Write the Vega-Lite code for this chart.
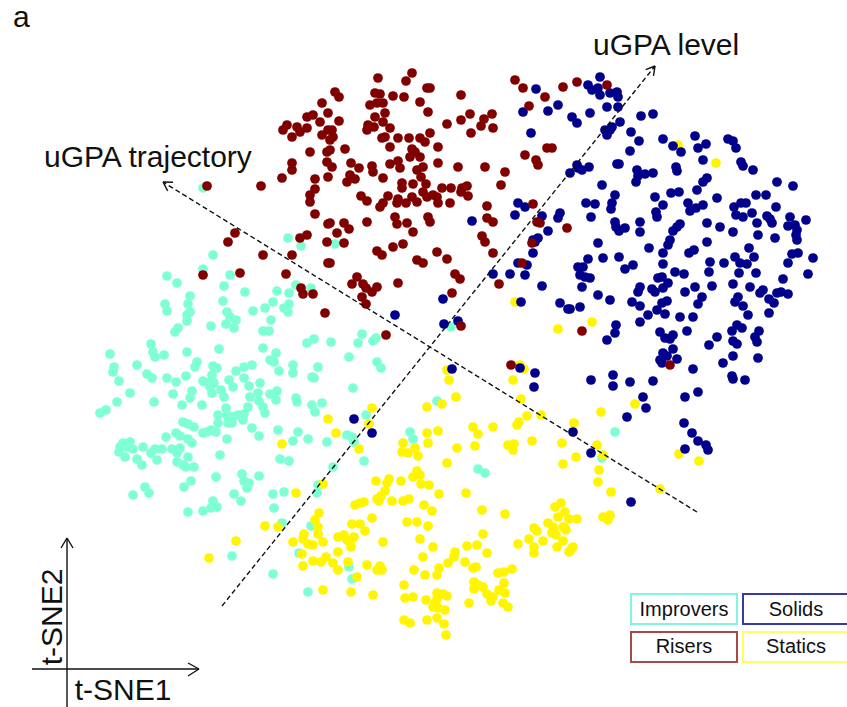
{
"$schema":"https://vega.github.io/schema/vega-lite/v6.json",
"width":847,"height":707,
"autosize":{"type":"none"},
"padding":0,
"background":"white",
"config":{"view":{"stroke":null},"font":"Liberation Sans"},
"datasets":{
"points":[
{"x":203,"y":188,"group":"Improvers"},{"x":288,"y":238,"group":"Improvers"},{"x":301,"y":246,"group":"Improvers"},{"x":335,"y":244,"group":"Improvers"},{"x":213,"y":255,"group":"Improvers"},{"x":203,"y":269,"group":"Improvers"},{"x":167,"y":276,"group":"Improvers"},{"x":177,"y":283,"group":"Improvers"},{"x":230,"y":275,"group":"Improvers"},{"x":224,"y":286,"group":"Improvers"},{"x":245,"y":292,"group":"Improvers"},{"x":190,"y":296,"group":"Improvers"},{"x":165,"y":304,"group":"Improvers"},{"x":167,"y":311,"group":"Improvers"},{"x":188,"y":304,"group":"Improvers"},{"x":187,"y":315,"group":"Improvers"},{"x":190,"y":312,"group":"Improvers"},{"x":187,"y":321,"group":"Improvers"},{"x":223,"y":301,"group":"Improvers"},{"x":227,"y":312,"group":"Improvers"},{"x":230,"y":317,"group":"Improvers"},{"x":236,"y":320,"group":"Improvers"},{"x":226,"y":324,"group":"Improvers"},{"x":234,"y":328,"group":"Improvers"},{"x":211,"y":326,"group":"Improvers"},{"x":253,"y":311,"group":"Improvers"},{"x":265,"y":308,"group":"Improvers"},{"x":273,"y":302,"group":"Improvers"},{"x":277,"y":291,"group":"Improvers"},{"x":289,"y":293,"group":"Improvers"},{"x":296,"y":285,"group":"Improvers"},{"x":311,"y":288,"group":"Improvers"},{"x":289,"y":304,"group":"Improvers"},{"x":284,"y":308,"group":"Improvers"},{"x":288,"y":312,"group":"Improvers"},{"x":271,"y":320,"group":"Improvers"},{"x":263,"y":331,"group":"Improvers"},{"x":269,"y":331,"group":"Improvers"},{"x":178,"y":328,"group":"Improvers"},{"x":175,"y":332,"group":"Improvers"},{"x":307,"y":343,"group":"Improvers"},{"x":314,"y":339,"group":"Improvers"},{"x":331,"y":342,"group":"Improvers"},{"x":151,"y":344,"group":"Improvers"},{"x":153,"y":352,"group":"Improvers"},{"x":155,"y":357,"group":"Improvers"},{"x":164,"y":355,"group":"Improvers"},{"x":187,"y":352,"group":"Improvers"},{"x":219,"y":349,"group":"Improvers"},{"x":263,"y":348,"group":"Improvers"},{"x":276,"y":353,"group":"Improvers"},{"x":270,"y":360,"group":"Improvers"},{"x":274,"y":362,"group":"Improvers"},{"x":110,"y":354,"group":"Improvers"},{"x":114,"y":367,"group":"Improvers"},{"x":113,"y":372,"group":"Improvers"},{"x":137,"y":365,"group":"Improvers"},{"x":119,"y":381,"group":"Improvers"},{"x":147,"y":374,"group":"Improvers"},{"x":152,"y":378,"group":"Improvers"},{"x":167,"y":378,"group":"Improvers"},{"x":176,"y":382,"group":"Improvers"},{"x":186,"y":376,"group":"Improvers"},{"x":197,"y":362,"group":"Improvers"},{"x":195,"y":367,"group":"Improvers"},{"x":213,"y":366,"group":"Improvers"},{"x":217,"y":368,"group":"Improvers"},{"x":212,"y":375,"group":"Improvers"},{"x":203,"y":381,"group":"Improvers"},{"x":208,"y":383,"group":"Improvers"},{"x":214,"y":383,"group":"Improvers"},{"x":210,"y":387,"group":"Improvers"},{"x":229,"y":380,"group":"Improvers"},{"x":236,"y":371,"group":"Improvers"},{"x":244,"y":367,"group":"Improvers"},{"x":252,"y":365,"group":"Improvers"},{"x":244,"y":378,"group":"Improvers"},{"x":233,"y":387,"group":"Improvers"},{"x":249,"y":386,"group":"Improvers"},{"x":260,"y":383,"group":"Improvers"},{"x":279,"y":371,"group":"Improvers"},{"x":293,"y":365,"group":"Improvers"},{"x":293,"y":373,"group":"Improvers"},{"x":318,"y":367,"group":"Improvers"},{"x":312,"y":377,"group":"Improvers"},{"x":314,"y":378,"group":"Improvers"},{"x":130,"y":393,"group":"Improvers"},{"x":117,"y":402,"group":"Improvers"},{"x":154,"y":402,"group":"Improvers"},{"x":173,"y":394,"group":"Improvers"},{"x":192,"y":391,"group":"Improvers"},{"x":190,"y":398,"group":"Improvers"},{"x":212,"y":393,"group":"Improvers"},{"x":221,"y":390,"group":"Improvers"},{"x":224,"y":397,"group":"Improvers"},{"x":250,"y":397,"group":"Improvers"},{"x":258,"y":393,"group":"Improvers"},{"x":270,"y":394,"group":"Improvers"},{"x":277,"y":391,"group":"Improvers"},{"x":276,"y":400,"group":"Improvers"},{"x":296,"y":398,"group":"Improvers"},{"x":297,"y":402,"group":"Improvers"},{"x":312,"y":405,"group":"Improvers"},{"x":322,"y":403,"group":"Improvers"},{"x":315,"y":412,"group":"Improvers"},{"x":182,"y":405,"group":"Improvers"},{"x":202,"y":405,"group":"Improvers"},{"x":226,"y":408,"group":"Improvers"},{"x":218,"y":415,"group":"Improvers"},{"x":227,"y":415,"group":"Improvers"},{"x":232,"y":417,"group":"Improvers"},{"x":238,"y":415,"group":"Improvers"},{"x":244,"y":414,"group":"Improvers"},{"x":243,"y":420,"group":"Improvers"},{"x":232,"y":423,"group":"Improvers"},{"x":228,"y":423,"group":"Improvers"},{"x":218,"y":423,"group":"Improvers"},{"x":216,"y":432,"group":"Improvers"},{"x":248,"y":407,"group":"Improvers"},{"x":263,"y":407,"group":"Improvers"},{"x":265,"y":413,"group":"Improvers"},{"x":259,"y":401,"group":"Improvers"},{"x":100,"y":413,"group":"Improvers"},{"x":106,"y":410,"group":"Improvers"},{"x":183,"y":422,"group":"Improvers"},{"x":188,"y":424,"group":"Improvers"},{"x":194,"y":427,"group":"Improvers"},{"x":203,"y":433,"group":"Improvers"},{"x":207,"y":432,"group":"Improvers"},{"x":211,"y":430,"group":"Improvers"},{"x":176,"y":433,"group":"Improvers"},{"x":180,"y":436,"group":"Improvers"},{"x":166,"y":437,"group":"Improvers"},{"x":188,"y":439,"group":"Improvers"},{"x":192,"y":443,"group":"Improvers"},{"x":227,"y":439,"group":"Improvers"},{"x":252,"y":428,"group":"Improvers"},{"x":259,"y":436,"group":"Improvers"},{"x":278,"y":430,"group":"Improvers"},{"x":293,"y":441,"group":"Improvers"},{"x":298,"y":432,"group":"Improvers"},{"x":308,"y":439,"group":"Improvers"},{"x":327,"y":442,"group":"Improvers"},{"x":123,"y":443,"group":"Improvers"},{"x":130,"y":442,"group":"Improvers"},{"x":127,"y":447,"group":"Improvers"},{"x":120,"y":447,"group":"Improvers"},{"x":143,"y":447,"group":"Improvers"},{"x":155,"y":449,"group":"Improvers"},{"x":162,"y":449,"group":"Improvers"},{"x":172,"y":449,"group":"Improvers"},{"x":180,"y":448,"group":"Improvers"},{"x":362,"y":334,"group":"Improvers"},{"x":358,"y":343,"group":"Improvers"},{"x":373,"y":341,"group":"Improvers"},{"x":376,"y":338,"group":"Improvers"},{"x":349,"y":357,"group":"Improvers"},{"x":377,"y":362,"group":"Improvers"},{"x":381,"y":368,"group":"Improvers"},{"x":353,"y":388,"group":"Improvers"},{"x":451,"y":327,"group":"Improvers"},{"x":437,"y":401,"group":"Improvers"},{"x":366,"y":415,"group":"Improvers"},{"x":347,"y":435,"group":"Improvers"},{"x":352,"y":437,"group":"Improvers"},{"x":354,"y":442,"group":"Improvers"},{"x":410,"y":432,"group":"Improvers"},{"x":413,"y":439,"group":"Improvers"},{"x":119,"y":452,"group":"Improvers"},{"x":125,"y":457,"group":"Improvers"},{"x":133,"y":449,"group":"Improvers"},{"x":151,"y":453,"group":"Improvers"},{"x":177,"y":453,"group":"Improvers"},{"x":157,"y":460,"group":"Improvers"},{"x":137,"y":459,"group":"Improvers"},{"x":142,"y":465,"group":"Improvers"},{"x":177,"y":462,"group":"Improvers"},{"x":183,"y":465,"group":"Improvers"},{"x":188,"y":457,"group":"Improvers"},{"x":194,"y":467,"group":"Improvers"},{"x":186,"y":467,"group":"Improvers"},{"x":220,"y":455,"group":"Improvers"},{"x":216,"y":477,"group":"Improvers"},{"x":242,"y":474,"group":"Improvers"},{"x":244,"y":481,"group":"Improvers"},{"x":249,"y":483,"group":"Improvers"},{"x":247,"y":488,"group":"Improvers"},{"x":259,"y":476,"group":"Improvers"},{"x":234,"y":494,"group":"Improvers"},{"x":241,"y":501,"group":"Improvers"},{"x":273,"y":494,"group":"Improvers"},{"x":284,"y":492,"group":"Improvers"},{"x":280,"y":459,"group":"Improvers"},{"x":289,"y":461,"group":"Improvers"},{"x":333,"y":467,"group":"Improvers"},{"x":318,"y":485,"group":"Improvers"},{"x":317,"y":493,"group":"Improvers"},{"x":145,"y":487,"group":"Improvers"},{"x":149,"y":493,"group":"Improvers"},{"x":133,"y":495,"group":"Improvers"},{"x":184,"y":487,"group":"Improvers"},{"x":191,"y":481,"group":"Improvers"},{"x":213,"y":501,"group":"Improvers"},{"x":217,"y":507,"group":"Improvers"},{"x":211,"y":508,"group":"Improvers"},{"x":203,"y":511,"group":"Improvers"},{"x":188,"y":512,"group":"Improvers"},{"x":274,"y":508,"group":"Improvers"},{"x":282,"y":523,"group":"Improvers"},{"x":311,"y":526,"group":"Improvers"},{"x":232,"y":556,"group":"Improvers"},{"x":273,"y":574,"group":"Improvers"},{"x":308,"y":592,"group":"Improvers"},{"x":299,"y":553,"group":"Improvers"},{"x":364,"y":461,"group":"Improvers"},{"x":478,"y":469,"group":"Improvers"},{"x":485,"y":473,"group":"Improvers"},{"x":349,"y":567,"group":"Improvers"},{"x":352,"y":579,"group":"Improvers"},{"x":615,"y":432,"group":"Improvers"},{"x":602,"y":458,"group":"Improvers"},
{"x":678,"y":145,"group":"Statics"},{"x":716,"y":163,"group":"Statics"},{"x":592,"y":322,"group":"Statics"},{"x":635,"y":404,"group":"Statics"},{"x":601,"y":412,"group":"Statics"},{"x":574,"y":423,"group":"Statics"},{"x":597,"y":445,"group":"Statics"},{"x":603,"y":455,"group":"Statics"},{"x":576,"y":457,"group":"Statics"},{"x":679,"y":454,"group":"Statics"},{"x":699,"y":461,"group":"Statics"},{"x":599,"y":470,"group":"Statics"},{"x":328,"y":419,"group":"Statics"},{"x":336,"y":433,"group":"Statics"},{"x":282,"y":444,"group":"Statics"},{"x":515,"y":302,"group":"Statics"},{"x":558,"y":329,"group":"Statics"},{"x":447,"y":370,"group":"Statics"},{"x":449,"y":380,"group":"Statics"},{"x":520,"y":365,"group":"Statics"},{"x":524,"y":369,"group":"Statics"},{"x":513,"y":380,"group":"Statics"},{"x":456,"y":397,"group":"Statics"},{"x":427,"y":407,"group":"Statics"},{"x":442,"y":404,"group":"Statics"},{"x":521,"y":399,"group":"Statics"},{"x":527,"y":416,"group":"Statics"},{"x":541,"y":415,"group":"Statics"},{"x":372,"y":408,"group":"Statics"},{"x":369,"y":424,"group":"Statics"},{"x":359,"y":449,"group":"Statics"},{"x":403,"y":443,"group":"Statics"},{"x":415,"y":448,"group":"Statics"},{"x":427,"y":433,"group":"Statics"},{"x":428,"y":443,"group":"Statics"},{"x":438,"y":431,"group":"Statics"},{"x":457,"y":448,"group":"Statics"},{"x":473,"y":427,"group":"Statics"},{"x":478,"y":434,"group":"Statics"},{"x":493,"y":427,"group":"Statics"},{"x":475,"y":446,"group":"Statics"},{"x":508,"y":445,"group":"Statics"},{"x":514,"y":444,"group":"Statics"},{"x":517,"y":425,"group":"Statics"},{"x":519,"y":422,"group":"Statics"},{"x":532,"y":441,"group":"Statics"},{"x":562,"y":443,"group":"Statics"},{"x":296,"y":493,"group":"Statics"},{"x":323,"y":484,"group":"Statics"},{"x":319,"y":513,"group":"Statics"},{"x":315,"y":520,"group":"Statics"},{"x":318,"y":527,"group":"Statics"},{"x":318,"y":534,"group":"Statics"},{"x":265,"y":526,"group":"Statics"},{"x":278,"y":527,"group":"Statics"},{"x":236,"y":541,"group":"Statics"},{"x":209,"y":558,"group":"Statics"},{"x":293,"y":542,"group":"Statics"},{"x":304,"y":534,"group":"Statics"},{"x":303,"y":539,"group":"Statics"},{"x":308,"y":544,"group":"Statics"},{"x":313,"y":545,"group":"Statics"},{"x":323,"y":542,"group":"Statics"},{"x":338,"y":537,"group":"Statics"},{"x":338,"y":552,"group":"Statics"},{"x":302,"y":554,"group":"Statics"},{"x":303,"y":566,"group":"Statics"},{"x":313,"y":561,"group":"Statics"},{"x":321,"y":562,"group":"Statics"},{"x":326,"y":557,"group":"Statics"},{"x":333,"y":563,"group":"Statics"},{"x":338,"y":570,"group":"Statics"},{"x":323,"y":590,"group":"Statics"},{"x":402,"y":452,"group":"Statics"},{"x":408,"y":453,"group":"Statics"},{"x":418,"y":456,"group":"Statics"},{"x":513,"y":450,"group":"Statics"},{"x":563,"y":464,"group":"Statics"},{"x":447,"y":463,"group":"Statics"},{"x":417,"y":471,"group":"Statics"},{"x":420,"y":475,"group":"Statics"},{"x":413,"y":477,"group":"Statics"},{"x":401,"y":481,"group":"Statics"},{"x":421,"y":484,"group":"Statics"},{"x":429,"y":485,"group":"Statics"},{"x":376,"y":481,"group":"Statics"},{"x":389,"y":479,"group":"Statics"},{"x":387,"y":483,"group":"Statics"},{"x":385,"y":491,"group":"Statics"},{"x":381,"y":496,"group":"Statics"},{"x":379,"y":501,"group":"Statics"},{"x":377,"y":499,"group":"Statics"},{"x":392,"y":501,"group":"Statics"},{"x":403,"y":501,"group":"Statics"},{"x":409,"y":499,"group":"Statics"},{"x":355,"y":505,"group":"Statics"},{"x":360,"y":503,"group":"Statics"},{"x":364,"y":502,"group":"Statics"},{"x":439,"y":494,"group":"Statics"},{"x":466,"y":493,"group":"Statics"},{"x":424,"y":505,"group":"Statics"},{"x":432,"y":511,"group":"Statics"},{"x":482,"y":510,"group":"Statics"},{"x":505,"y":514,"group":"Statics"},{"x":372,"y":518,"group":"Statics"},{"x":352,"y":524,"group":"Statics"},{"x":360,"y":524,"group":"Statics"},{"x":365,"y":531,"group":"Statics"},{"x":407,"y":522,"group":"Statics"},{"x":417,"y":522,"group":"Statics"},{"x":428,"y":526,"group":"Statics"},{"x":344,"y":535,"group":"Statics"},{"x":347,"y":540,"group":"Statics"},{"x":354,"y":537,"group":"Statics"},{"x":351,"y":547,"group":"Statics"},{"x":350,"y":542,"group":"Statics"},{"x":383,"y":542,"group":"Statics"},{"x":420,"y":539,"group":"Statics"},{"x":433,"y":547,"group":"Statics"},{"x":483,"y":534,"group":"Statics"},{"x":467,"y":546,"group":"Statics"},{"x":477,"y":545,"group":"Statics"},{"x":487,"y":553,"group":"Statics"},{"x":348,"y":562,"group":"Statics"},{"x":367,"y":565,"group":"Statics"},{"x":377,"y":570,"group":"Statics"},{"x":382,"y":570,"group":"Statics"},{"x":380,"y":566,"group":"Statics"},{"x":357,"y":577,"group":"Statics"},{"x":351,"y":592,"group":"Statics"},{"x":373,"y":595,"group":"Statics"},{"x":404,"y":585,"group":"Statics"},{"x":414,"y":570,"group":"Statics"},{"x":423,"y":557,"group":"Statics"},{"x":425,"y":575,"group":"Statics"},{"x":437,"y":575,"group":"Statics"},{"x":439,"y":568,"group":"Statics"},{"x":448,"y":563,"group":"Statics"},{"x":454,"y":557,"group":"Statics"},{"x":455,"y":552,"group":"Statics"},{"x":465,"y":562,"group":"Statics"},{"x":473,"y":568,"group":"Statics"},{"x":476,"y":567,"group":"Statics"},{"x":474,"y":582,"group":"Statics"},{"x":478,"y":585,"group":"Statics"},{"x":483,"y":587,"group":"Statics"},{"x":474,"y":589,"group":"Statics"},{"x":498,"y":573,"group":"Statics"},{"x":504,"y":572,"group":"Statics"},{"x":512,"y":569,"group":"Statics"},{"x":504,"y":583,"group":"Statics"},{"x":499,"y":590,"group":"Statics"},{"x":505,"y":593,"group":"Statics"},{"x":487,"y":594,"group":"Statics"},{"x":493,"y":597,"group":"Statics"},{"x":491,"y":601,"group":"Statics"},{"x":503,"y":603,"group":"Statics"},{"x":508,"y":607,"group":"Statics"},{"x":469,"y":603,"group":"Statics"},{"x":405,"y":598,"group":"Statics"},{"x":413,"y":597,"group":"Statics"},{"x":426,"y":600,"group":"Statics"},{"x":437,"y":593,"group":"Statics"},{"x":443,"y":594,"group":"Statics"},{"x":447,"y":596,"group":"Statics"},{"x":437,"y":599,"group":"Statics"},{"x":435,"y":603,"group":"Statics"},{"x":433,"y":607,"group":"Statics"},{"x":438,"y":608,"group":"Statics"},{"x":445,"y":610,"group":"Statics"},{"x":404,"y":620,"group":"Statics"},{"x":410,"y":623,"group":"Statics"},{"x":427,"y":620,"group":"Statics"},{"x":437,"y":618,"group":"Statics"},{"x":444,"y":624,"group":"Statics"},{"x":446,"y":635,"group":"Statics"},{"x":518,"y":544,"group":"Statics"},{"x":529,"y":539,"group":"Statics"},{"x":534,"y":528,"group":"Statics"},{"x":537,"y":531,"group":"Statics"},{"x":534,"y":547,"group":"Statics"},{"x":534,"y":553,"group":"Statics"},{"x":543,"y":541,"group":"Statics"},{"x":548,"y":523,"group":"Statics"},{"x":553,"y":527,"group":"Statics"},{"x":554,"y":531,"group":"Statics"},{"x":556,"y":535,"group":"Statics"},{"x":552,"y":533,"group":"Statics"},{"x":555,"y":507,"group":"Statics"},{"x":561,"y":503,"group":"Statics"},{"x":565,"y":512,"group":"Statics"},{"x":558,"y":517,"group":"Statics"},{"x":569,"y":519,"group":"Statics"},{"x":577,"y":519,"group":"Statics"},{"x":563,"y":527,"group":"Statics"},{"x":566,"y":530,"group":"Statics"},{"x":563,"y":541,"group":"Statics"},{"x":557,"y":547,"group":"Statics"},{"x":570,"y":551,"group":"Statics"},{"x":573,"y":547,"group":"Statics"},{"x":598,"y":482,"group":"Statics"},{"x":611,"y":492,"group":"Statics"},{"x":660,"y":489,"group":"Statics"},{"x":565,"y":528,"group":"Statics"},{"x":572,"y":548,"group":"Statics"},{"x":569,"y":552,"group":"Statics"},{"x":603,"y":517,"group":"Statics"},{"x":610,"y":515,"group":"Statics"},{"x":608,"y":520,"group":"Statics"},
{"x":536,"y":89,"group":"Solids"},{"x":523,"y":112,"group":"Solids"},{"x":548,"y":111,"group":"Solids"},{"x":558,"y":105,"group":"Solids"},{"x":572,"y":117,"group":"Solids"},{"x":577,"y":123,"group":"Solids"},{"x":531,"y":133,"group":"Solids"},{"x":577,"y":165,"group":"Solids"},{"x":578,"y":168,"group":"Solids"},{"x":570,"y":173,"group":"Solids"},{"x":472,"y":221,"group":"Solids"},{"x":518,"y":203,"group":"Solids"},{"x":525,"y":207,"group":"Solids"},{"x":515,"y":215,"group":"Solids"},{"x":542,"y":216,"group":"Solids"},{"x":560,"y":213,"group":"Solids"},{"x":558,"y":218,"group":"Solids"},{"x":548,"y":231,"group":"Solids"},{"x":533,"y":240,"group":"Solids"},{"x":538,"y":238,"group":"Solids"},{"x":535,"y":242,"group":"Solids"},{"x":533,"y":253,"group":"Solids"},{"x":600,"y":77,"group":"Solids"},{"x":588,"y":85,"group":"Solids"},{"x":592,"y":90,"group":"Solids"},{"x":598,"y":88,"group":"Solids"},{"x":600,"y":95,"group":"Solids"},{"x":610,"y":93,"group":"Solids"},{"x":617,"y":92,"group":"Solids"},{"x":618,"y":97,"group":"Solids"},{"x":607,"y":107,"group":"Solids"},{"x":618,"y":107,"group":"Solids"},{"x":590,"y":113,"group":"Solids"},{"x":620,"y":122,"group":"Solids"},{"x":641,"y":116,"group":"Solids"},{"x":653,"y":114,"group":"Solids"},{"x":605,"y":130,"group":"Solids"},{"x":610,"y":130,"group":"Solids"},{"x":607,"y":135,"group":"Solids"},{"x":612,"y":127,"group":"Solids"},{"x":631,"y":132,"group":"Solids"},{"x":639,"y":141,"group":"Solids"},{"x":630,"y":151,"group":"Solids"},{"x":663,"y":139,"group":"Solids"},{"x":673,"y":146,"group":"Solids"},{"x":681,"y":152,"group":"Solids"},{"x":695,"y":136,"group":"Solids"},{"x":698,"y":148,"group":"Solids"},{"x":706,"y":144,"group":"Solids"},{"x":728,"y":139,"group":"Solids"},{"x":733,"y":141,"group":"Solids"},{"x":736,"y":148,"group":"Solids"},{"x":703,"y":160,"group":"Solids"},{"x":741,"y":162,"group":"Solids"},{"x":743,"y":166,"group":"Solids"},{"x":753,"y":170,"group":"Solids"},{"x":617,"y":164,"group":"Solids"},{"x":619,"y":164,"group":"Solids"},{"x":589,"y":167,"group":"Solids"},{"x":582,"y":170,"group":"Solids"},{"x":637,"y":170,"group":"Solids"},{"x":645,"y":174,"group":"Solids"},{"x":653,"y":173,"group":"Solids"},{"x":638,"y":176,"group":"Solids"},{"x":636,"y":182,"group":"Solids"},{"x":676,"y":167,"group":"Solids"},{"x":677,"y":171,"group":"Solids"},{"x":602,"y":185,"group":"Solids"},{"x":615,"y":195,"group":"Solids"},{"x":612,"y":203,"group":"Solids"},{"x":611,"y":209,"group":"Solids"},{"x":586,"y":203,"group":"Solids"},{"x":595,"y":204,"group":"Solids"},{"x":591,"y":217,"group":"Solids"},{"x":615,"y":222,"group":"Solids"},{"x":616,"y":227,"group":"Solids"},{"x":619,"y":231,"group":"Solids"},{"x":625,"y":228,"group":"Solids"},{"x":640,"y":222,"group":"Solids"},{"x":640,"y":232,"group":"Solids"},{"x":655,"y":197,"group":"Solids"},{"x":663,"y":205,"group":"Solids"},{"x":671,"y":193,"group":"Solids"},{"x":679,"y":192,"group":"Solids"},{"x":656,"y":212,"group":"Solids"},{"x":657,"y":217,"group":"Solids"},{"x":688,"y":203,"group":"Solids"},{"x":690,"y":211,"group":"Solids"},{"x":696,"y":208,"group":"Solids"},{"x":703,"y":205,"group":"Solids"},{"x":697,"y":190,"group":"Solids"},{"x":703,"y":182,"group":"Solids"},{"x":707,"y":178,"group":"Solids"},{"x":717,"y":198,"group":"Solids"},{"x":734,"y":207,"group":"Solids"},{"x":741,"y":203,"group":"Solids"},{"x":746,"y":203,"group":"Solids"},{"x":756,"y":195,"group":"Solids"},{"x":766,"y":195,"group":"Solids"},{"x":736,"y":215,"group":"Solids"},{"x":743,"y":217,"group":"Solids"},{"x":752,"y":213,"group":"Solids"},{"x":777,"y":182,"group":"Solids"},{"x":793,"y":186,"group":"Solids"},{"x":776,"y":207,"group":"Solids"},{"x":767,"y":216,"group":"Solids"},{"x":770,"y":219,"group":"Solids"},{"x":772,"y":223,"group":"Solids"},{"x":790,"y":217,"group":"Solids"},{"x":806,"y":220,"group":"Solids"},{"x":788,"y":226,"group":"Solids"},{"x":795,"y":225,"group":"Solids"},{"x":797,"y":230,"group":"Solids"},{"x":796,"y":235,"group":"Solids"},{"x":797,"y":240,"group":"Solids"},{"x":775,"y":238,"group":"Solids"},{"x":758,"y":235,"group":"Solids"},{"x":757,"y":223,"group":"Solids"},{"x":733,"y":232,"group":"Solids"},{"x":720,"y":227,"group":"Solids"},{"x":707,"y":223,"group":"Solids"},{"x":680,"y":224,"group":"Solids"},{"x":677,"y":227,"group":"Solids"},{"x":673,"y":231,"group":"Solids"},{"x":670,"y":240,"group":"Solids"},{"x":668,"y":245,"group":"Solids"},{"x":663,"y":253,"group":"Solids"},{"x":649,"y":248,"group":"Solids"},{"x":598,"y":243,"group":"Solids"},{"x":619,"y":257,"group":"Solids"},{"x":603,"y":258,"group":"Solids"},{"x":588,"y":259,"group":"Solids"},{"x":707,"y":242,"group":"Solids"},{"x":689,"y":253,"group":"Solids"},{"x":694,"y":250,"group":"Solids"},{"x":735,"y":257,"group":"Solids"},{"x":749,"y":248,"group":"Solids"},{"x":792,"y":254,"group":"Solids"},{"x":798,"y":253,"group":"Solids"},{"x":813,"y":258,"group":"Solids"},{"x":625,"y":269,"group":"Solids"},{"x":633,"y":265,"group":"Solids"},{"x":583,"y":267,"group":"Solids"},{"x":580,"y":275,"group":"Solids"},{"x":585,"y":277,"group":"Solids"},{"x":590,"y":278,"group":"Solids"},{"x":582,"y":287,"group":"Solids"},{"x":598,"y":295,"group":"Solids"},{"x":610,"y":300,"group":"Solids"},{"x":580,"y":307,"group":"Solids"},{"x":570,"y":309,"group":"Solids"},{"x":616,"y":325,"group":"Solids"},{"x":615,"y":333,"group":"Solids"},{"x":607,"y":340,"group":"Solids"},{"x":640,"y":287,"group":"Solids"},{"x":638,"y":292,"group":"Solids"},{"x":652,"y":289,"group":"Solids"},{"x":655,"y":292,"group":"Solids"},{"x":658,"y":278,"group":"Solids"},{"x":662,"y":277,"group":"Solids"},{"x":663,"y":288,"group":"Solids"},{"x":668,"y":283,"group":"Solids"},{"x":632,"y":302,"group":"Solids"},{"x":640,"y":306,"group":"Solids"},{"x":648,"y":315,"group":"Solids"},{"x":657,"y":310,"group":"Solids"},{"x":640,"y":322,"group":"Solids"},{"x":662,"y":303,"group":"Solids"},{"x":667,"y":301,"group":"Solids"},{"x":665,"y":314,"group":"Solids"},{"x":663,"y":264,"group":"Solids"},{"x":675,"y":272,"group":"Solids"},{"x":684,"y":274,"group":"Solids"},{"x":685,"y":292,"group":"Solids"},{"x":695,"y":287,"group":"Solids"},{"x":702,"y":297,"group":"Solids"},{"x":698,"y":304,"group":"Solids"},{"x":680,"y":317,"group":"Solids"},{"x":693,"y":317,"group":"Solids"},{"x":687,"y":331,"group":"Solids"},{"x":660,"y":332,"group":"Solids"},{"x":665,"y":338,"group":"Solids"},{"x":670,"y":339,"group":"Solids"},{"x":673,"y":335,"group":"Solids"},{"x":673,"y":349,"group":"Solids"},{"x":677,"y":359,"group":"Solids"},{"x":663,"y":353,"group":"Solids"},{"x":660,"y":360,"group":"Solids"},{"x":662,"y":363,"group":"Solids"},{"x":667,"y":356,"group":"Solids"},{"x":710,"y":262,"group":"Solids"},{"x":709,"y":272,"group":"Solids"},{"x":724,"y":263,"group":"Solids"},{"x":740,"y":263,"group":"Solids"},{"x":747,"y":264,"group":"Solids"},{"x":754,"y":257,"group":"Solids"},{"x":739,"y":273,"group":"Solids"},{"x":756,"y":273,"group":"Solids"},{"x":712,"y":286,"group":"Solids"},{"x":733,"y":284,"group":"Solids"},{"x":750,"y":287,"group":"Solids"},{"x":760,"y":293,"group":"Solids"},{"x":763,"y":290,"group":"Solids"},{"x":777,"y":293,"group":"Solids"},{"x":781,"y":292,"group":"Solids"},{"x":788,"y":294,"group":"Solids"},{"x":769,"y":299,"group":"Solids"},{"x":774,"y":303,"group":"Solids"},{"x":783,"y":279,"group":"Solids"},{"x":788,"y":263,"group":"Solids"},{"x":808,"y":274,"group":"Solids"},{"x":735,"y":302,"group":"Solids"},{"x":738,"y":297,"group":"Solids"},{"x":743,"y":306,"group":"Solids"},{"x":748,"y":315,"group":"Solids"},{"x":769,"y":313,"group":"Solids"},{"x":737,"y":325,"group":"Solids"},{"x":742,"y":328,"group":"Solids"},{"x":732,"y":331,"group":"Solids"},{"x":759,"y":331,"group":"Solids"},{"x":755,"y":337,"group":"Solids"},{"x":757,"y":342,"group":"Solids"},{"x":733,"y":341,"group":"Solids"},{"x":737,"y":344,"group":"Solids"},{"x":717,"y":337,"group":"Solids"},{"x":709,"y":345,"group":"Solids"},{"x":733,"y":356,"group":"Solids"},{"x":758,"y":358,"group":"Solids"},{"x":723,"y":363,"group":"Solids"},{"x":693,"y":369,"group":"Solids"},{"x":732,"y":376,"group":"Solids"},{"x":733,"y":379,"group":"Solids"},{"x":745,"y":380,"group":"Solids"},{"x":591,"y":380,"group":"Solids"},{"x":613,"y":375,"group":"Solids"},{"x":613,"y":386,"group":"Solids"},{"x":630,"y":382,"group":"Solids"},{"x":653,"y":381,"group":"Solids"},{"x":643,"y":397,"group":"Solids"},{"x":646,"y":408,"group":"Solids"},{"x":627,"y":417,"group":"Solids"},{"x":685,"y":397,"group":"Solids"},{"x":698,"y":392,"group":"Solids"},{"x":684,"y":423,"group":"Solids"},{"x":692,"y":433,"group":"Solids"},{"x":698,"y":441,"group":"Solids"},{"x":706,"y":445,"group":"Solids"},{"x":708,"y":450,"group":"Solids"},{"x":685,"y":449,"group":"Solids"},{"x":573,"y":432,"group":"Solids"},{"x":591,"y":453,"group":"Solids"},{"x":518,"y":263,"group":"Solids"},{"x":527,"y":265,"group":"Solids"},{"x":493,"y":274,"group":"Solids"},{"x":510,"y":274,"group":"Solids"},{"x":525,"y":275,"group":"Solids"},{"x":542,"y":286,"group":"Solids"},{"x":578,"y":267,"group":"Solids"},{"x":560,"y":303,"group":"Solids"},{"x":568,"y":309,"group":"Solids"},{"x":443,"y":299,"group":"Solids"},{"x":395,"y":315,"group":"Solids"},{"x":444,"y":324,"group":"Solids"},{"x":458,"y":321,"group":"Solids"},{"x":521,"y":302,"group":"Solids"},{"x":452,"y":369,"group":"Solids"},{"x":520,"y":368,"group":"Solids"},{"x":535,"y":373,"group":"Solids"},{"x":534,"y":387,"group":"Solids"},{"x":354,"y":419,"group":"Solids"},{"x":372,"y":433,"group":"Solids"},{"x":631,"y":502,"group":"Solids"},
{"x":335,"y":92,"group":"Risers"},{"x":322,"y":103,"group":"Risers"},{"x":328,"y":113,"group":"Risers"},{"x":307,"y":117,"group":"Risers"},{"x":313,"y":115,"group":"Risers"},{"x":320,"y":122,"group":"Risers"},{"x":287,"y":125,"group":"Risers"},{"x":297,"y":127,"group":"Risers"},{"x":307,"y":128,"group":"Risers"},{"x":283,"y":130,"group":"Risers"},{"x":292,"y":137,"group":"Risers"},{"x":300,"y":132,"group":"Risers"},{"x":328,"y":130,"group":"Risers"},{"x":322,"y":135,"group":"Risers"},{"x":330,"y":140,"group":"Risers"},{"x":310,"y":152,"group":"Risers"},{"x":327,"y":152,"group":"Risers"},{"x":327,"y":162,"group":"Risers"},{"x":332,"y":167,"group":"Risers"},{"x":292,"y":163,"group":"Risers"},{"x":292,"y":170,"group":"Risers"},{"x":282,"y":178,"group":"Risers"},{"x":328,"y":177,"group":"Risers"},{"x":315,"y":179,"group":"Risers"},{"x":315,"y":189,"group":"Risers"},{"x":310,"y":195,"group":"Risers"},{"x":310,"y":202,"group":"Risers"},{"x":261,"y":186,"group":"Risers"},{"x":207,"y":186,"group":"Risers"},{"x":315,"y":214,"group":"Risers"},{"x":328,"y":224,"group":"Risers"},{"x":337,"y":233,"group":"Risers"},{"x":235,"y":233,"group":"Risers"},{"x":228,"y":242,"group":"Risers"},{"x":300,"y":238,"group":"Risers"},{"x":307,"y":235,"group":"Risers"},{"x":327,"y":242,"group":"Risers"},{"x":263,"y":255,"group":"Risers"},{"x":292,"y":255,"group":"Risers"},{"x":378,"y":78,"group":"Risers"},{"x":412,"y":73,"group":"Risers"},{"x":406,"y":81,"group":"Risers"},{"x":427,"y":88,"group":"Risers"},{"x":430,"y":88,"group":"Risers"},{"x":339,"y":97,"group":"Risers"},{"x":375,"y":93,"group":"Risers"},{"x":380,"y":94,"group":"Risers"},{"x":393,"y":96,"group":"Risers"},{"x":404,"y":97,"group":"Risers"},{"x":420,"y":102,"group":"Risers"},{"x":461,"y":95,"group":"Risers"},{"x":370,"y":105,"group":"Risers"},{"x":377,"y":103,"group":"Risers"},{"x":383,"y":103,"group":"Risers"},{"x":385,"y":113,"group":"Risers"},{"x":375,"y":117,"group":"Risers"},{"x":383,"y":122,"group":"Risers"},{"x":368,"y":125,"group":"Risers"},{"x":374,"y":127,"group":"Risers"},{"x":367,"y":130,"group":"Risers"},{"x":390,"y":128,"group":"Risers"},{"x":428,"y":112,"group":"Risers"},{"x":339,"y":121,"group":"Risers"},{"x":332,"y":130,"group":"Risers"},{"x":333,"y":137,"group":"Risers"},{"x":382,"y":138,"group":"Risers"},{"x":385,"y":137,"group":"Risers"},{"x":398,"y":138,"group":"Risers"},{"x":409,"y":138,"group":"Risers"},{"x":420,"y":138,"group":"Risers"},{"x":425,"y":142,"group":"Risers"},{"x":430,"y":133,"group":"Risers"},{"x":447,"y":124,"group":"Risers"},{"x":461,"y":120,"group":"Risers"},{"x":470,"y":114,"group":"Risers"},{"x":484,"y":119,"group":"Risers"},{"x":492,"y":114,"group":"Risers"},{"x":481,"y":126,"group":"Risers"},{"x":493,"y":128,"group":"Risers"},{"x":471,"y":133,"group":"Risers"},{"x":330,"y":150,"group":"Risers"},{"x":345,"y":149,"group":"Risers"},{"x":390,"y":147,"group":"Risers"},{"x":412,"y":149,"group":"Risers"},{"x":415,"y":152,"group":"Risers"},{"x":410,"y":157,"group":"Risers"},{"x":420,"y":157,"group":"Risers"},{"x":438,"y":147,"group":"Risers"},{"x":351,"y":163,"group":"Risers"},{"x":359,"y":168,"group":"Risers"},{"x":372,"y":166,"group":"Risers"},{"x":373,"y":172,"group":"Risers"},{"x":390,"y":164,"group":"Risers"},{"x":398,"y":161,"group":"Risers"},{"x":400,"y":168,"group":"Risers"},{"x":417,"y":170,"group":"Risers"},{"x":423,"y":167,"group":"Risers"},{"x":438,"y":163,"group":"Risers"},{"x":458,"y":167,"group":"Risers"},{"x":485,"y":167,"group":"Risers"},{"x":505,"y":172,"group":"Risers"},{"x":350,"y":175,"group":"Risers"},{"x":347,"y":182,"group":"Risers"},{"x":355,"y":179,"group":"Risers"},{"x":383,"y":178,"group":"Risers"},{"x":402,"y":183,"group":"Risers"},{"x":402,"y":188,"group":"Risers"},{"x":413,"y":184,"group":"Risers"},{"x":421,"y":177,"group":"Risers"},{"x":426,"y":184,"group":"Risers"},{"x":442,"y":188,"group":"Risers"},{"x":451,"y":188,"group":"Risers"},{"x":462,"y":188,"group":"Risers"},{"x":467,"y":186,"group":"Risers"},{"x":461,"y":192,"group":"Risers"},{"x":501,"y":185,"group":"Risers"},{"x":361,"y":196,"group":"Risers"},{"x":367,"y":201,"group":"Risers"},{"x":388,"y":196,"group":"Risers"},{"x":383,"y":203,"group":"Risers"},{"x":380,"y":207,"group":"Risers"},{"x":398,"y":199,"group":"Risers"},{"x":406,"y":203,"group":"Risers"},{"x":397,"y":203,"group":"Risers"},{"x":412,"y":197,"group":"Risers"},{"x":417,"y":202,"group":"Risers"},{"x":423,"y":192,"group":"Risers"},{"x":427,"y":197,"group":"Risers"},{"x":433,"y":195,"group":"Risers"},{"x":437,"y":197,"group":"Risers"},{"x":438,"y":203,"group":"Risers"},{"x":450,"y":203,"group":"Risers"},{"x":468,"y":196,"group":"Risers"},{"x":487,"y":206,"group":"Risers"},{"x":487,"y":218,"group":"Risers"},{"x":493,"y":222,"group":"Risers"},{"x":395,"y":217,"group":"Risers"},{"x":397,"y":224,"group":"Risers"},{"x":407,"y":223,"group":"Risers"},{"x":428,"y":217,"group":"Risers"},{"x":430,"y":222,"group":"Risers"},{"x":367,"y":222,"group":"Risers"},{"x":330,"y":223,"group":"Risers"},{"x":344,"y":223,"group":"Risers"},{"x":349,"y":229,"group":"Risers"},{"x":413,"y":232,"group":"Risers"},{"x":393,"y":247,"group":"Risers"},{"x":403,"y":244,"group":"Risers"},{"x":377,"y":251,"group":"Risers"},{"x":382,"y":255,"group":"Risers"},{"x":437,"y":252,"group":"Risers"},{"x":482,"y":236,"group":"Risers"},{"x":485,"y":242,"group":"Risers"},{"x":493,"y":253,"group":"Risers"},{"x":344,"y":243,"group":"Risers"},{"x":515,"y":80,"group":"Risers"},{"x":523,"y":88,"group":"Risers"},{"x":545,"y":97,"group":"Risers"},{"x":563,"y":87,"group":"Risers"},{"x":577,"y":82,"group":"Risers"},{"x":529,"y":106,"group":"Risers"},{"x":547,"y":148,"group":"Risers"},{"x":552,"y":148,"group":"Risers"},{"x":525,"y":155,"group":"Risers"},{"x":536,"y":160,"group":"Risers"},{"x":538,"y":165,"group":"Risers"},{"x":533,"y":204,"group":"Risers"},{"x":537,"y":222,"group":"Risers"},{"x":540,"y":223,"group":"Risers"},{"x":567,"y":228,"group":"Risers"},{"x":532,"y":243,"group":"Risers"},{"x":607,"y":85,"group":"Risers"},{"x":328,"y":263,"group":"Risers"},{"x":203,"y":275,"group":"Risers"},{"x":240,"y":273,"group":"Risers"},{"x":286,"y":274,"group":"Risers"},{"x":301,"y":288,"group":"Risers"},{"x":303,"y":294,"group":"Risers"},{"x":313,"y":294,"group":"Risers"},{"x":325,"y":313,"group":"Risers"},{"x":417,"y":260,"group":"Risers"},{"x":423,"y":263,"group":"Risers"},{"x":447,"y":259,"group":"Risers"},{"x":455,"y":274,"group":"Risers"},{"x":460,"y":279,"group":"Risers"},{"x":330,"y":263,"group":"Risers"},{"x":357,"y":277,"group":"Risers"},{"x":352,"y":284,"group":"Risers"},{"x":363,"y":284,"group":"Risers"},{"x":366,"y":288,"group":"Risers"},{"x":372,"y":292,"group":"Risers"},{"x":377,"y":287,"group":"Risers"},{"x":362,"y":297,"group":"Risers"},{"x":366,"y":304,"group":"Risers"},{"x":398,"y":283,"group":"Risers"},{"x":452,"y":293,"group":"Risers"},{"x":386,"y":335,"group":"Risers"},{"x":461,"y":326,"group":"Risers"},{"x":499,"y":284,"group":"Risers"},{"x":522,"y":263,"group":"Risers"},{"x":511,"y":365,"group":"Risers"},{"x":582,"y":331,"group":"Risers"},{"x":670,"y":365,"group":"Risers"}
],
"dashed":[
{"x":697,"y":512,"x2":163,"y2":182},
{"x":222,"y":606,"x2":655,"y2":66}
],
"solid":[
{"x":163,"y":182,"x2":167.7,"y2":190.8},
{"x":163,"y":182,"x2":173,"y2":182.3},
{"x":655,"y":66,"x2":645.7,"y2":69.6},
{"x":655,"y":66,"x2":653.5,"y2":75.9},
{"x":67,"y":707,"x2":67,"y2":538},
{"x":67,"y":538,"x2":61,"y2":548},
{"x":67,"y":538,"x2":73,"y2":548},
{"x":32,"y":669,"x2":199,"y2":669},
{"x":199,"y":669,"x2":188,"y2":663},
{"x":199,"y":669,"x2":188,"y2":676}
],
"legend":[
{"label":"Improvers","x":631,"x2":737,"y":594,"y2":624,"tx":684,"ty":616},
{"label":"Solids","x":743,"x2":860,"y":594,"y2":624,"tx":796,"ty":616},
{"label":"Risers","x":631,"x2":737,"y":632,"y2":662,"tx":684,"ty":653},
{"label":"Statics","x":743,"x2":860,"y":632,"y2":662,"tx":796,"ty":653}
],
"titles":[
{"x":44,"y":167,"label":"uGPA trajectory"},
{"x":593,"y":55,"label":"uGPA level"},
{"x":13,"y":27,"label":"a"}
],
"axisTitles":[
{"x":123,"y":700,"label":"t-SNE1"}
],
"axisTitlesV":[
{"x":62,"y":617,"label":"t-SNE2"}
]
},
"layer":[
{"data":{"name":"points"},
 "mark":{"type":"circle","size":95,"opacity":1},
 "encoding":{
  "x":{"field":"x","type":"quantitative","scale":{"domain":[0,847],"nice":false,"zero":false},"axis":null},
  "y":{"field":"y","type":"quantitative","scale":{"domain":[0,707],"reverse":true,"nice":false,"zero":false},"axis":null},
  "color":{"field":"group","type":"nominal","scale":{"domain":["Improvers","Solids","Risers","Statics"],"range":["#7FFFD4","#00008B","#800000","#FFF500"]},"legend":null}
 }},
{"data":{"name":"dashed"},
 "mark":{"type":"rule","strokeDash":[5,3],"strokeWidth":1.4,"color":"#111111"},
 "encoding":{
  "x":{"field":"x","type":"quantitative","axis":null},
  "y":{"field":"y","type":"quantitative","axis":null},
  "x2":{"field":"x2"},"y2":{"field":"y2"}
 }},
{"data":{"name":"solid"},
 "mark":{"type":"rule","strokeWidth":1.4,"color":"#111111"},
 "encoding":{
  "x":{"field":"x","type":"quantitative","axis":null},
  "y":{"field":"y","type":"quantitative","axis":null},
  "x2":{"field":"x2"},"y2":{"field":"y2"}
 }},
{"data":{"name":"legend"},
 "mark":{"type":"rect","fill":"white","strokeWidth":2},
 "encoding":{
  "x":{"field":"x","type":"quantitative","axis":null},
  "y":{"field":"y","type":"quantitative","axis":null},
  "x2":{"field":"x2"},"y2":{"field":"y2"},
  "stroke":{"field":"label","type":"nominal","scale":{"domain":["Improvers","Solids","Risers","Statics"],"range":["#80F5E0","#3838A8","#A84848","#FFFF60"]},"legend":null}
 }},
{"data":{"name":"legend"},
 "mark":{"type":"text","fontSize":20,"align":"center","baseline":"alphabetic","color":"#111111"},
 "encoding":{
  "x":{"field":"tx","type":"quantitative","axis":null},
  "y":{"field":"ty","type":"quantitative","axis":null},
  "text":{"field":"label"}
 }},
{"data":{"name":"titles"},
 "mark":{"type":"text","fontSize":30,"align":"left","baseline":"alphabetic","color":"#111111"},
 "encoding":{
  "x":{"field":"x","type":"quantitative","axis":null},
  "y":{"field":"y","type":"quantitative","axis":null},
  "text":{"field":"label"}
 }},
{"data":{"name":"axisTitles"},
 "mark":{"type":"text","fontSize":30,"align":"center","baseline":"alphabetic","color":"#111111"},
 "encoding":{
  "x":{"field":"x","type":"quantitative","axis":null},
  "y":{"field":"y","type":"quantitative","axis":null},
  "text":{"field":"label"}
 }},
{"data":{"name":"axisTitlesV"},
 "mark":{"type":"text","fontSize":30,"align":"center","baseline":"alphabetic","angle":270,"color":"#111111"},
 "encoding":{
  "x":{"field":"x","type":"quantitative","axis":null},
  "y":{"field":"y","type":"quantitative","axis":null},
  "text":{"field":"label"}
 }}
]
}
